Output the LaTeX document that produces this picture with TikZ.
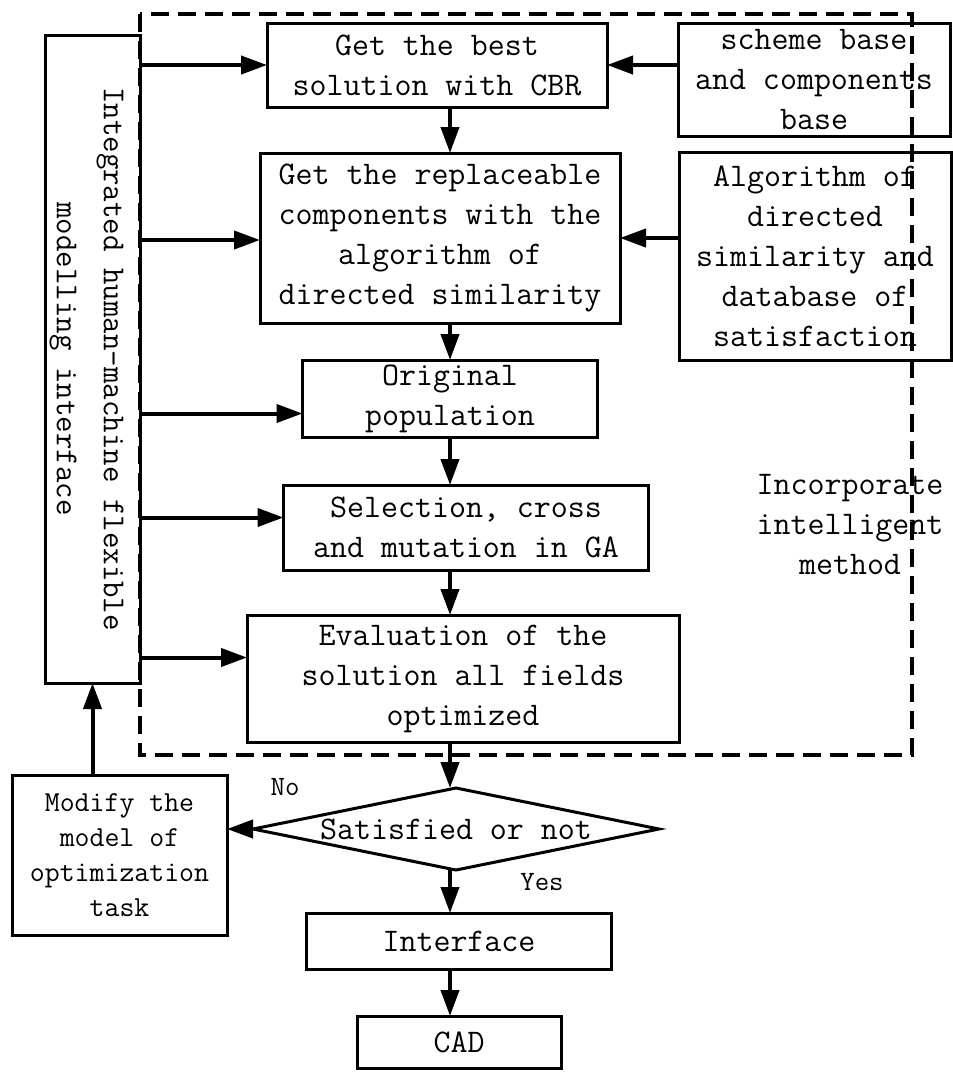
\documentclass[tikz,border=0pt]{standalone}
\usepackage{fontspec}
\usetikzlibrary{shapes.geometric,arrows.meta,positioning}

\begin{document}
\begin{tikzpicture}[x=1pt,y=-1pt,node distance=46pt,
  box/.style={draw,line width=3pt,align=center,inner sep=2pt,outer sep=0pt,font=\ttfamily\fontsize{33}{40}\selectfont},
  arr/.style={-{Triangle[length=26pt,width=18pt]},line width=4pt},
  group/.style={line width=4pt,dash pattern=on 18pt off 9pt},
  note/.style={align=center,font=\ttfamily\fontsize{33}{40}\selectfont}]
\path[fill=white,use as bounding box] (0,0) rectangle (953,1072);
\coordinate (spine) at (450,0);
% main column
\node[box,minimum width=340pt,minimum height=84pt] (best) at (437,65) {Get the best\\solution with CBR};
\node[box,below=46pt of best,xshift=3pt,minimum width=360pt,minimum height=170pt] (repl) {Get the replaceable\\components with the\\algorithm of\\directed similarity};
\node[box,below=37pt of repl,xshift=10pt,minimum width=295pt,minimum height=77pt] (orig) {Original\\population};
\node[box,below=48pt of orig,xshift=16pt,minimum width=365pt,minimum height=85pt] (sel) {Selection, cross\\and mutation in GA};
\node[box,below=45pt of sel,xshift=-3pt,minimum width=432pt,minimum height=127pt] (eval) {Evaluation of the\\solution all fields\\optimized};
\node[box,diamond,below=46pt of eval,xshift=-7pt,inner sep=0pt,minimum width=406pt,minimum height=82pt] (sat) {\makebox[0pt]{Satisfied or not}};
\node[box,below=43pt of sat,xshift=3pt,minimum width=305pt,minimum height=56pt] (intf) {Interface};
\node[box,below=47pt of intf,minimum width=204pt,minimum height=52pt] (cad) {CAD};
% bases on the right
\node[box,right=71pt of best,yshift=-15pt,minimum width=272pt,minimum height=113pt] (scheme) {scheme base\\and components\\base};
\node[box,right=59pt of repl,yshift=-18pt,minimum width=272pt,minimum height=208pt] (algo) {Algorithm of\\directed\\similarity and\\database of\\satisfaction};
% interface on the left
\node[box,minimum width=95pt,minimum height=648pt] (hmi) at (92.5,359) {};
\node[note,rotate=-90,font=\ttfamily\fontsize{32}{47}\selectfont] (hmitext) at ([xshift=-6pt]hmi.center) {Integrated human-machine flexible\\modelling interface};
\node[box,left=26pt of sat,yshift=-26pt,minimum width=215pt,minimum height=160pt,font=\ttfamily\fontsize{29}{35}\selectfont] (modify) {Modify the\\model of\\optimization\\task};
\node[note] (inc) at (850,525) {Incorporate\\intelligent\\method};
\node[font=\ttfamily\fontsize{28}{34}\selectfont] (no) at (285,787) {No};
\node[font=\ttfamily\fontsize{28}{34}\selectfont] (yes) at (542,882) {Yes};
% arrows
\foreach \a/\b in {best/repl,repl/orig,orig/sel,sel/eval,eval/sat,sat/intf,intf/cad}
  \draw[arr] (\a.south -| spine) -- (\b.north -| spine);
\foreach \b/\dy in {best/0,repl/-2,orig/-15,sel/10,eval/21}
  \draw[arr] ([yshift=\dy pt]\b.west -| hmi.east) -- ([yshift=\dy pt]\b.west);
\draw[arr] (best.east -| scheme.west) -- (best.east);
\draw[arr] (repl.east -| algo.west) -- (repl.east);
\draw[arr] (sat.west) -- (sat.west -| modify.east);
\draw[arr] (hmi.south |- modify.north) -- (hmi.south);
% intelligent method frame
\draw[group] (140,14) rectangle (912,755);
\end{tikzpicture}
\end{document}
